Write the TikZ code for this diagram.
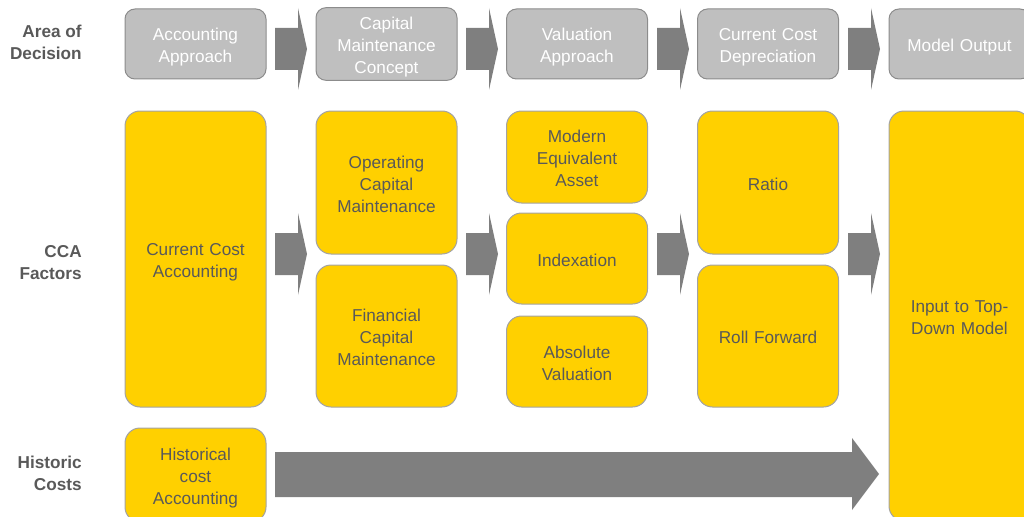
\documentclass[tikz,border=0pt]{standalone}
\usepackage{fontspec}
\setmainfont{Liberation Sans}
\definecolor{boxgrey}{HTML}{BFBFBF}
\definecolor{edgegrey}{HTML}{8C8C8C}
\definecolor{arrowgrey}{HTML}{7F7F7F}
\definecolor{cyellow}{HTML}{FFD000}
\definecolor{ctext}{HTML}{595959}
\tikzset{
  box/.style={rounded corners=11.25pt, line width=0.75pt, align=center,
    minimum width=105.75pt, text width=100pt, inner sep=2pt,
    font=\fontsize{12.9}{16.5}\selectfont,
    % same line box for every label, whatever letters it holds
    execute at begin node={\rule{0pt}{14.5pt}},
    execute at end node={\rule[-3pt]{0pt}{3pt}}},
  greybox/.style={box, rounded corners=7.5pt, fill=boxgrey, draw=edgegrey,
    text=white, minimum height=52.5pt},
  ybox/.style={box, fill=cyellow, draw=edgegrey!80, text=ctext},
  rowlabel/.style={anchor=east, align=right, text=ctext, inner sep=0pt,
    font=\fontsize{12.9}{16.5}\selectfont\bfseries},
}
\begin{document}
\begin{tikzpicture}[x=0.75pt, y=-0.75pt]
  \useasboundingbox (0,0) rectangle (1024,517);
  \clip (0,0) rectangle (1024,517);

  % row labels
  \node[rowlabel] (lbltop) at (82,42) {Area of\\Decision};
  \node[rowlabel] (lblmid) at (82,263) {CCA\\Factors};
  \node[rowlabel] (lblbot) at (82,473) {Historic\\Costs};

  % top row: areas of decision
  \node[greybox] (acc) at (195.5,44) {Accounting\\Approach};
  \node[greybox] (capm) at (386.5,44) {Capital\\Maintenance\\Concept};
  \node[greybox] (val) at (577,44) {Valuation\\Approach};
  \node[greybox] (ccd) at (768,44) {Current Cost\\Depreciation};
  \node[greybox] (out) at (959.5,44) {Model Output};

  % CCA factors
  \node[ybox, minimum height=222pt] (cca) at (195.5,259) {Current Cost\\Accounting};
  \node[ybox, minimum height=107.25pt] (opcm) at (386.5,182.5) {Operating\\Capital\\Maintenance};
  \node[ybox, minimum height=106.5pt] (fincm) at (386.5,336) {Financial\\Capital\\Maintenance};
  \node[ybox, minimum height=69pt] (mea) at (577,157) {Modern\\Equivalent\\Asset};
  \node[ybox, minimum height=68.25pt] (idx) at (577,258.5) {Indexation};
  \node[ybox, minimum height=68.25pt] (absv) at (577,361.5) {Absolute\\Valuation};
  \node[ybox, minimum height=107.25pt] (ratio) at (768,182.5) {Ratio};
  \node[ybox, minimum height=106.5pt] (rollf) at (768,336) {Roll Forward};
  \node[ybox, minimum height=307.5pt] (input) at (959.5,316) {Input to Top-\\Down Model};

  % historic costs
  \node[ybox, minimum height=70.5pt] (hist) at (195.5,475) {Historical\\cost\\Accounting};

  % block arrows between the columns
  \foreach \x in {275,466,657,848}{
    \fill[arrowgrey] (\x,28) -- (\x+23,28) -- (\x+23,8) -- (\x+32,49)
      -- (\x+23,90) -- (\x+23,70) -- (\x,70) -- cycle;
    \fill[arrowgrey] (\x,233) -- (\x+23,233) -- (\x+23,213) -- (\x+32,254)
      -- (\x+23,295) -- (\x+23,275) -- (\x,275) -- cycle;
  }
  \fill[arrowgrey] (275,452) -- (852,452) -- (852,438) -- (879,474)
    -- (852,510) -- (852,497) -- (275,497) -- cycle;
\end{tikzpicture}
\end{document}
